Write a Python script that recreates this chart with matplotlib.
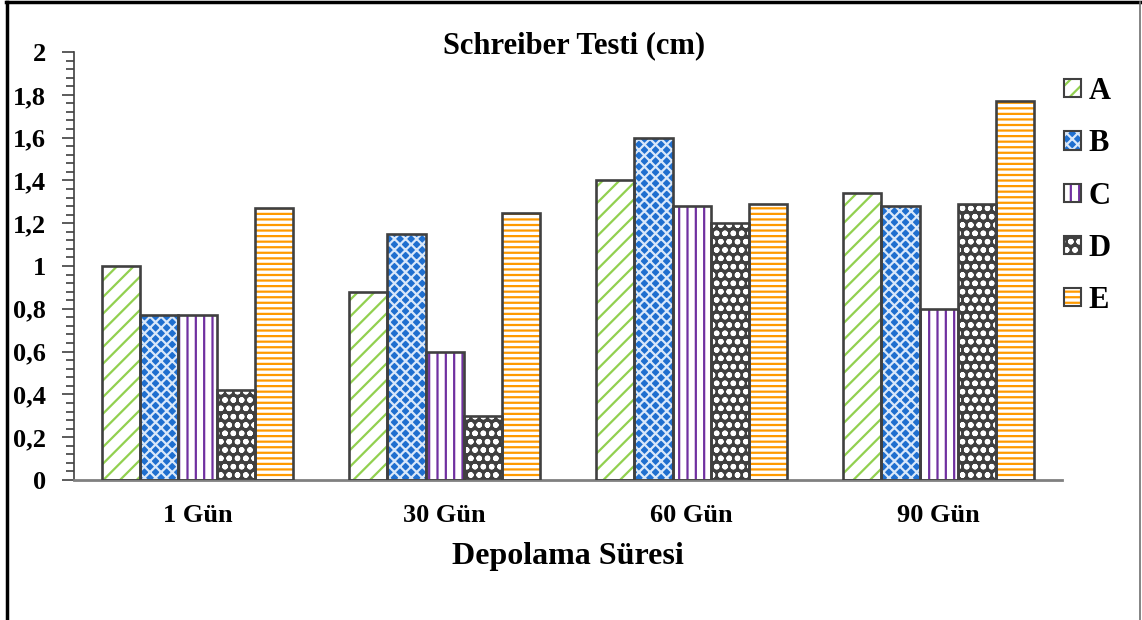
import matplotlib
matplotlib.use("Agg")
import matplotlib.pyplot as plt
import numpy as np
from matplotlib.patches import Patch
from matplotlib.lines import Line2D
from matplotlib.legend_handler import HandlerTuple
from matplotlib.ticker import MultipleLocator, FuncFormatter

categories = ["1 Gün", "30 Gün", "60 Gün", "90 Gün"]
series_names = ["A", "B", "C", "D", "E"]
A = [1.00, 0.88, 1.40, 1.34]
B = [0.77, 1.15, 1.60, 1.28]
C = [0.77, 0.60, 1.28, 0.80]
D = [0.42, 0.30, 1.20, 1.29]
E = [1.27, 1.25, 1.29, 1.77]
values = [A, B, C, D, E]

styles = [
    dict(face="white", hatch="//", hcol="#92D050"),
    dict(face="#1F6FCF", hatch="xxx", hcol="#D9E8FA"),
    dict(face="white", hatch="||", hcol="#7030A0"),
    dict(face="#404040", hatch="oo", hcol="white"),
    dict(face="white", hatch="---", hcol="#FF9A00"),
]

plt.rcParams["font.family"] = ["Liberation Serif", "DejaVu Serif"]
plt.rcParams["font.weight"] = "bold"
plt.rcParams["hatch.linewidth"] = 1.6

fig = plt.figure(figsize=(11.42, 6.2), dpi=100)
ax = fig.add_axes([0.0648, 0.2258, 0.8652, 0.6903])

x = np.arange(len(categories))
w = 0.154
edge = "#404040"
handles = []
for i, (vals, st) in enumerate(zip(values, styles)):
    pos = x + (i - 2) * w
    ax.bar(pos, vals, w, color=st["face"], hatch=st["hatch"],
           edgecolor=st["hcol"], linewidth=0, zorder=2)
    ax.bar(pos, vals, w, fill=False, edgecolor=edge, linewidth=1.9, zorder=3)
    p1 = Patch(facecolor=st["face"], hatch=st["hatch"], edgecolor=st["hcol"], linewidth=0)
    p2 = Patch(fill=False, edgecolor=edge, linewidth=1.5)
    handles.append((p1, p2))

ax.set_xlim(-0.5, 3.5)
ax.set_ylim(0, 2)
ax.set_xticks(x)
ax.set_xticklabels(categories, fontsize=19, fontweight="bold")
ax.yaxis.set_major_locator(MultipleLocator(0.2))
ax.yaxis.set_minor_locator(MultipleLocator(0.04))
ax.yaxis.set_major_formatter(FuncFormatter(lambda v, p: ("%g" % round(v, 1)).replace(".", ",")))
ax.tick_params(axis="y", which="major", length=9, width=1.2, color="#404040", pad=11, labelsize=19)
ax.tick_params(axis="y", which="minor", length=6, width=1.2, color="#404040")
ax.tick_params(axis="x", length=0, pad=17, labelsize=19)
for lab in ax.get_yticklabels() + ax.get_xticklabels():
    lab.set_fontweight("bold")

for s in ["top", "right"]:
    ax.spines[s].set_visible(False)
ax.spines["left"].set_color("#404040")
ax.spines["left"].set_linewidth(1.2)
ax.spines["bottom"].set_color("#808080")
ax.spines["bottom"].set_linewidth(2)

fig.text(0.503, 0.927, "Schreiber Testi (cm)", ha="center", va="center",
         fontsize=22, fontweight="bold")
fig.text(0.497, 0.103, "Depolama Süresi", ha="center", va="center",
         fontsize=23, fontweight="bold")

leg = fig.legend(handles, series_names, handler_map={tuple: HandlerTuple(ndivide=1)},
                 loc="upper left", bbox_to_anchor=(0.908, 0.92), frameon=False,
                 handlelength=0.55, handleheight=0.55, handletextpad=0.25,
                 labelspacing=0.76, prop={"weight": "bold", "size": 22})

# figure frame
fig.add_artist(Line2D([0.0065, 0.0065], [0, 0.996], transform=fig.transFigure,
                      color="black", linewidth=2.5))
fig.add_artist(Line2D([0.0055, 0.998], [0.996, 0.996], transform=fig.transFigure,
                      color="black", linewidth=2.5))
fig.add_artist(Line2D([0.998, 0.998], [0, 0.996], transform=fig.transFigure,
                      color="#707070", linewidth=1.2))

fig.savefig("out.png", dpi=100)
